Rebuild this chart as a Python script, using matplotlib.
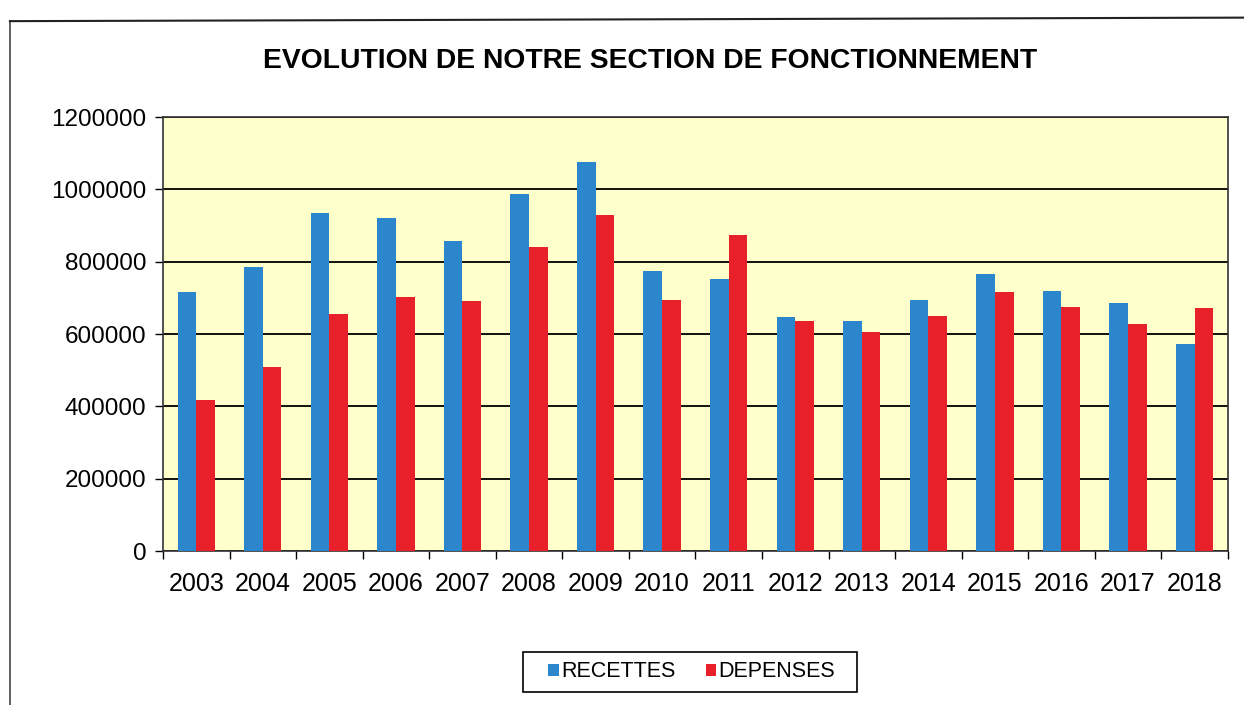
import matplotlib
matplotlib.use("Agg")
import matplotlib.pyplot as plt
import numpy as np
from matplotlib.lines import Line2D
from matplotlib.patches import Rectangle

years = ["2003", "2004", "2005", "2006", "2007", "2008", "2009", "2010",
         "2011", "2012", "2013", "2014", "2015", "2016", "2017", "2018"]
recettes = [716000, 785000, 936000, 922000, 858000, 988000, 1075000, 775000,
            753000, 646000, 636000, 695000, 767000, 720000, 685000, 573000]
depenses = [417000, 509000, 654000, 702000, 692000, 840000, 928000, 693000,
            875000, 636000, 605000, 650000, 717000, 675000, 628000, 671000]
yticks = [0, 200000, 400000, 600000, 800000, 1000000, 1200000]

plt.rcParams['font.family'] = ['Liberation Sans', 'DejaVu Sans']

W, H = 1244, 705
fig = plt.figure(figsize=(W / 100, H / 100), dpi=100)
ax = fig.add_axes([0.131, 0.2184, 0.856, 0.6156])
ax.set_facecolor('#FFFFCC')

x = np.arange(len(years))
w = 0.28
ax.bar(x - w/2, recettes, width=w, color='#2B86CC', label='RECETTES', zorder=3)
ax.bar(x + w/2, depenses, width=w, color='#E8202A', label='DEPENSES', zorder=3)

ax.set_xlim(-0.5, len(years) - 0.5)
ax.set_ylim(0, 1200000)
ax.set_yticks(yticks)
ax.set_yticklabels([str(v) for v in yticks], fontsize=17.5)
ax.yaxis.grid(True, color='black', linewidth=1.3, zorder=1)
ax.set_axisbelow(True)

ax.set_xticks(x)
ax.set_xticklabels(years, fontsize=18)
ax.tick_params(axis='x', which='major', length=0, pad=15)
ax.set_xticks(np.arange(-0.5, len(years)), minor=True)
ax.tick_params(axis='x', which='minor', length=6, width=1, direction='out')
ax.tick_params(axis='y', length=6, width=1, direction='out', pad=6)

for s in ax.spines.values():
    s.set_color('#333333')
    s.set_linewidth(1.2)

fig.text(0.5225, 0.914, "EVOLUTION DE NOTRE SECTION DE FONCTIONNEMENT",
         ha='center', va='center', fontsize=20.3, fontweight='bold')

leg = fig.legend(loc='center', bbox_to_anchor=(0.556, 0.047), ncol=2,
                 fontsize=15.5, frameon=False,
                 handlelength=0.5, handleheight=0.5, handletextpad=0.1,
                 columnspacing=1.4)

# legend frame
fig.add_artist(Rectangle((523 / W, 1 - 692 / H), (857 - 523) / W, 40 / H,
                         transform=fig.transFigure, fill=False,
                         edgecolor='black', linewidth=1.2))

# page frame lines
fig.add_artist(Line2D([0.008, 0.008], [0.0, 0.97], transform=fig.transFigure,
                      color='#444444', linewidth=1.2))
fig.add_artist(Line2D([0.008, 1.0], [0.97, 0.975], transform=fig.transFigure,
                      color='#222222', linewidth=1.5))

fig.savefig("out.png", dpi=100)
